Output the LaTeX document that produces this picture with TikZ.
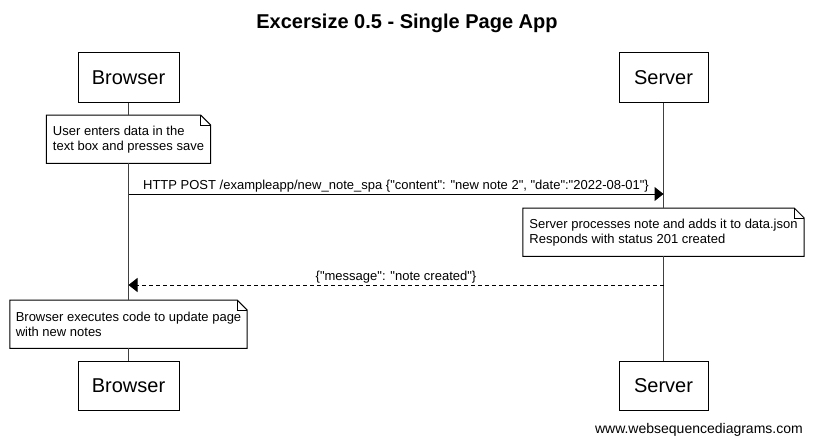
\documentclass[tikz,border=0pt]{standalone}
\usepackage{fontspec}
% a family without the TeX mapping, so " stays a straight quote
\newfontfamily\wsd{Liberation Sans}
\usetikzlibrary{arrows.meta}
\begin{document}
\wsd
\begin{tikzpicture}[x=1pt,y=-1pt,
  actor/.style={draw=black,line width=1pt,minimum height=49pt,inner sep=0pt,font=\wsd\fontsize{20}{24}\selectfont},
  lifeline/.style={draw=black!75,line width=1pt},
  notebox/.style={anchor=north,minimum height=48pt,inner xsep=4pt,inner ysep=0pt,align=left,font=\wsd\fontsize{13}{15}\selectfont},
  msg/.style={line width=1pt,-{Triangle[length=9pt,width=14pt]}},
  msglabel/.style={font=\wsd\fontsize{13}{15}\selectfont,inner sep=1pt,above}]
\useasboundingbox[fill=white] (0,0) rectangle (813,444);

% title
\node[font=\wsd\bfseries\fontsize{20}{24}\selectfont] (title) at (407,23) {Excersize 0.5 - Single Page App};

% participants
\node[actor,minimum width=101pt] (b1) at (128.5,77.5) {Browser};
\node[actor,minimum width=89pt] (s1) at (663.5,77.5) {Server};
\node[actor,minimum width=101pt] (b2) at (128.5,385.5) {Browser};
\node[actor,minimum width=89pt] (s2) at (663.5,385.5) {Server};

% notes with a folded top-right corner
\newcommand{\dogear}[1]{%
  \draw[line width=1pt] (#1.north west) -- ([xshift=-10pt]#1.north east) -- ([yshift=-10pt]#1.north east) -- (#1.south east) -- (#1.south west) -- cycle;
  \draw[line width=0.8pt] ([xshift=-10pt]#1.north east) |- ([yshift=-10pt]#1.north east);}
\node[notebox,minimum width=164pt] (n1) at (128.5,115) {User enters data in the\\text box and presses save};
\node[notebox,minimum width=281pt] (n2) at (663.5,208) {Server processes note and adds it to data.json\\Responds with status 201 created};
\node[notebox,minimum width=237pt] (n3) at (128.5,300) {Browser executes code to update page\\with new notes};
\dogear{n1}
\dogear{n2}
\dogear{n3}

% lifelines
\draw[lifeline] (b1.south) -- (n1.north);
\draw[lifeline] (n1.south) -- (n3.north);
\draw[lifeline] (n3.south) -- (b2.north);
\draw[lifeline] (s1.south) -- (n2.north);
\draw[lifeline] (n2.south) -- (s2.north);

% message endpoints on the lifelines
\coordinate (bpost) at (b1.south |- 0,194);
\coordinate (spost) at (s1.south |- 0,194);
\coordinate (sret) at (s1.south |- 0,285);
\coordinate (bret) at (b1.south |- 0,285);

\draw[msg] (bpost) -- node[msglabel] (m1) {HTTP POST /exampleapp/new\_note\_spa \{"content": "new note 2", "date":"2022-08-01"\}} (spost);
\draw[msg,dash pattern=on 4pt off 3pt] (sret) -- node[msglabel] (m2) {\{"message": "note created"\}} (bret);

% footer
\node[anchor=east,font=\wsd\fontsize{14}{16}\selectfont,inner sep=0pt] (foot) at (803,430) {www.websequencediagrams.com};
\end{tikzpicture}
\end{document}
